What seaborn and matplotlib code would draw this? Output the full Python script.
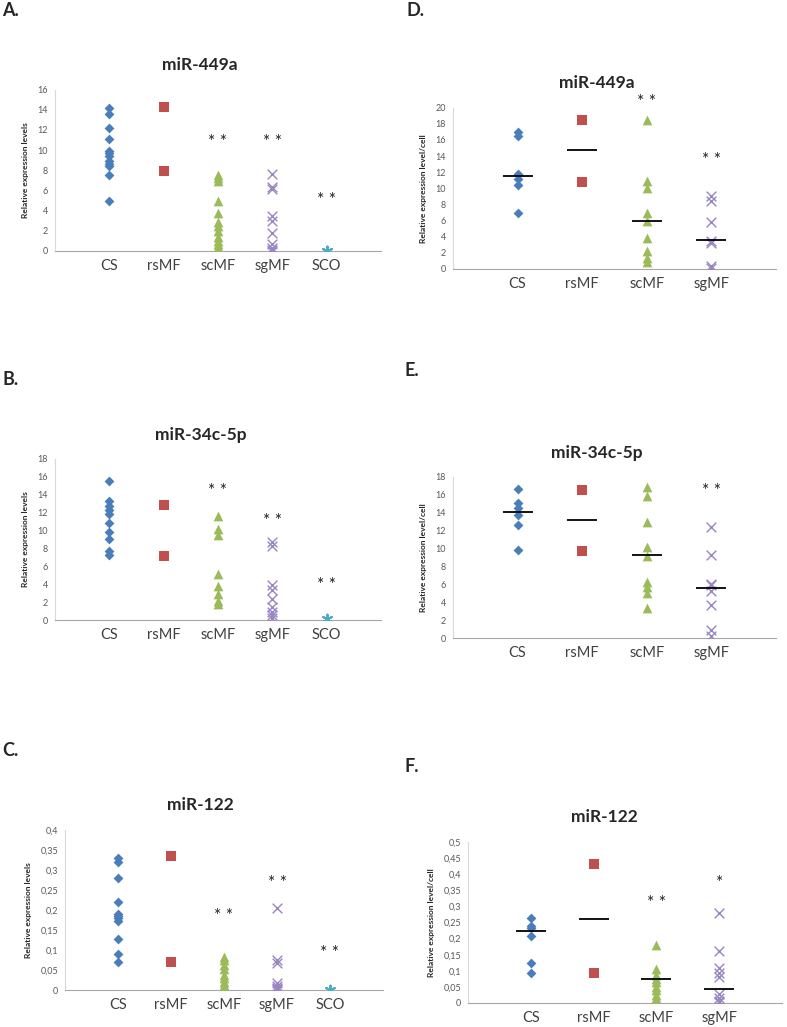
import numpy as np
import pandas as pd
import matplotlib
matplotlib.use("Agg")
import matplotlib.pyplot as plt
from matplotlib.ticker import FuncFormatter
import seaborn as sns

groups5 = ["CS", "rsMF", "scMF", "sgMF", "SCO"]
groups4 = ["CS", "rsMF", "scMF", "sgMF"]

# A. miR-449a, relative expression levels
a_cs = [14.2, 13.6, 12.2, 11.1, 9.9, 9.7, 9.4, 8.9, 8.6, 8.4, 7.5, 5.0]
a_rsmf = [14.3, 7.9]
a_scmf = [7.5, 7.2, 6.9, 5.0, 3.8, 2.9, 2.5, 2.0, 1.4, 1.0, 0.7, 0.4, 0.1]
a_sgmf = [7.6, 6.3, 6.1, 3.5, 3.0, 1.8, 0.7, 0.3, 0.1, 0.0]
a_sco = [0.0, 0.0, 0.0]

# B. miR-34c-5p, relative expression levels
b_cs = [15.5, 13.3, 12.7, 12.3, 11.9, 10.9, 9.8, 9.1, 7.7, 7.3]
b_rsmf = [12.9, 7.2]
b_scmf = [11.6, 10.2, 9.5, 5.1, 3.8, 2.9, 2.1, 1.8]
b_sgmf = [8.7, 8.3, 3.9, 3.4, 2.4, 1.5, 0.9, 0.6, 0.2]
b_sco = [0.1, 0.1]

# C. miR-122, relative expression levels
c_cs = [0.33, 0.32, 0.28, 0.22, 0.19, 0.185, 0.18, 0.172, 0.128, 0.09, 0.07]
c_rsmf = [0.335, 0.07]
c_scmf = [0.083, 0.075, 0.063, 0.052, 0.038, 0.03, 0.02, 0.012, 0.005]
c_sgmf = [0.206, 0.075, 0.068, 0.018, 0.01, 0.005, 0.003, 0.001]
c_sco = [0.0, 0.0]

# D. miR-449a, level per cell
d_cs = [17.0, 16.5, 11.8, 11.2, 10.4, 6.9]
d_rsmf = [18.5, 10.8]
d_scmf = [18.5, 10.9, 10.1, 7.0, 5.9, 3.9, 2.2, 1.4, 0.9]
d_sgmf = [9.0, 8.4, 5.8, 3.5, 3.2, 0.4, 0.1]
d_med = [11.5, 14.8, 5.9, 3.6]

# E. miR-34c-5p, level per cell
e_cs = [16.7, 15.1, 14.5, 13.7, 12.6, 9.8]
e_rsmf = [16.6, 9.7]
e_scmf = [16.9, 15.9, 13.0, 10.2, 9.2, 6.3, 5.7, 5.0, 3.3]
e_sgmf = [12.4, 9.3, 6.0, 5.9, 5.2, 3.7, 0.9, 0.2]
e_med = [14.1, 13.2, 9.3, 5.6]

# F. miR-122, level per cell
f_cs = [0.264, 0.239, 0.233, 0.208, 0.124, 0.093]
f_rsmf = [0.433, 0.093]
f_scmf = [0.181, 0.107, 0.086, 0.076, 0.065, 0.05, 0.039, 0.024, 0.017]
f_sgmf = [0.28, 0.161, 0.11, 0.094, 0.081, 0.029, 0.017, 0.006, 0.002]
f_med = [0.224, 0.262, 0.074, 0.043]

# significance marks (group, y, text)
a_stars = [("scMF", 11.2, "* *"), ("sgMF", 11.2, "* *"), ("SCO", 5.5, "* *")]
b_stars = [("scMF", 14.9, "* *"), ("sgMF", 11.5, "* *"), ("SCO", 4.4, "* *")]
c_stars = [("scMF", 0.196, "* *"), ("sgMF", 0.277, "* *"), ("SCO", 0.102, "* *")]
d_stars = [("scMF", 21.2, "* *"), ("sgMF", 14.0, "* *")]
e_stars = [("sgMF", 16.9, "* *")]
f_stars = [("scMF", 0.323, "* *"), ("sgMF", 0.385, "*")]

styles = {
    "CS": dict(marker="D", color="#4A7EBB", size=5),
    "rsMF": dict(marker="s", color="#C0504D", size=6.5),
    "scMF": dict(marker="^", color="#9BBB59", size=7),
    "sgMF": dict(marker="x", color="#9985C2", size=7, linewidth=1),
    "SCO": dict(marker=(6, 2, 0), color="#4BACC6", size=7, linewidth=1.3),
}

sns.set_style("white")
plt.rcParams["font.family"] = ["Lato", "DejaVu Sans"]

W, H = 787, 1027
fig = plt.figure(figsize=(W / 100, H / 100), dpi=100)


def px_axes(left, right, top, bottom):
    return fig.add_axes([left / W, 1 - bottom / H, (right - left) / W, (bottom - top) / H])


def draw_panel(ax, order, values, ymax, ystep, ylabel, stars, medians=None, comma=False):
    rows = [(g, v) for g, vals in zip(order, values) for v in vals]
    df = pd.DataFrame(rows, columns=["group", "value"])
    for g in order:
        sns.stripplot(data=df[df.group == g], x="group", y="value", order=order,
                      jitter=False, ax=ax, zorder=3, **styles[g])
    if medians is not None:
        sns.pointplot(x=order, y=medians, order=order, color="black", marker="_",
                      markersize=21, markeredgewidth=1.3, linestyle="none",
                      errorbar=None, ax=ax, zorder=4)
    for g, y, txt in stars:
        ax.annotate(txt, (order.index(g), y), xytext=(0, -3), textcoords="offset points",
                    ha="center", va="center", fontsize=12.5, color="#222222",
                    annotation_clip=False)
    ax.set_xlim(-1, len(order))
    ax.set_ylim(0, ymax)
    ax.set_yticks(np.arange(0, ymax + ystep / 2, ystep))
    if comma:
        ax.yaxis.set_major_formatter(FuncFormatter(lambda v, p: f"{round(v, 2):g}".replace(".", ",")))
    else:
        ax.yaxis.set_major_formatter(FuncFormatter(lambda v, p: f"{v:.0f}"))
    ax.set_xlabel("")
    ax.set_ylabel(ylabel, fontsize=6, fontweight="bold", labelpad=6)
    ax.tick_params(axis="y", length=0, labelsize=6.5, labelcolor="#595959", pad=5)
    ax.tick_params(axis="x", length=0, labelsize=10.5, labelcolor="#404040", pad=6)
    for s in ["top", "right"]:
        ax.spines[s].set_visible(False)
    ax.spines["left"].set_color("#D9D9D9")
    ax.spines["left"].set_linewidth(0.8)
    ax.spines["bottom"].set_color("#A6A6A6")
    ax.spines["bottom"].set_linewidth(0.8)
    ax.grid(False)


lab_left = "Relative expression levels"
lab_right = "Relative expression level/cell"

axA = px_axes(55, 381, 89.5, 251)
draw_panel(axA, groups5, [a_cs, a_rsmf, a_scmf, a_sgmf, a_sco], 16, 2, lab_left, a_stars)
axB = px_axes(55, 381, 459, 620)
draw_panel(axB, groups5, [b_cs, b_rsmf, b_scmf, b_sgmf, b_sco], 18, 2, lab_left, b_stars)
axC = px_axes(65, 383, 830, 990)
draw_panel(axC, groups5, [c_cs, c_rsmf, c_scmf, c_sgmf, c_sco], 0.4, 0.05, lab_left, c_stars, comma=True)
axD = px_axes(453, 776, 107.7, 269)
draw_panel(axD, groups4, [d_cs, d_rsmf, d_scmf, d_sgmf], 20, 2, lab_right, d_stars, medians=d_med)
axE = px_axes(453, 776, 477, 638)
draw_panel(axE, groups4, [e_cs, e_rsmf, e_scmf, e_sgmf], 18, 2, lab_right, e_stars, medians=e_med)
axF = px_axes(468, 782, 842, 1003)
draw_panel(axF, groups4, [f_cs, f_rsmf, f_scmf, f_sgmf], 0.5, 0.05, lab_right, f_stars, medians=f_med, comma=True)

titles = [("miR-449a", 200, 65), ("miR-34c-5p", 201, 435), ("miR-122", 200, 805),
          ("miR-449a", 597, 83), ("miR-34c-5p", 597, 453), ("miR-122", 604, 817)]
for txt, x, y in titles:
    fig.text(x / W, 1 - y / H, txt, ha="center", va="center", fontsize=12.5, fontweight="bold")

letters = [("A.", 2, 11), ("B.", 2, 380), ("C.", 2, 750),
           ("D.", 407, 11), ("E.", 405, 371), ("F.", 405, 767)]
for txt, x, y in letters:
    fig.text(x / W, 1 - y / H, txt, ha="left", va="center", fontsize=13, fontweight="bold")

fig.savefig("out.png", dpi=100)
